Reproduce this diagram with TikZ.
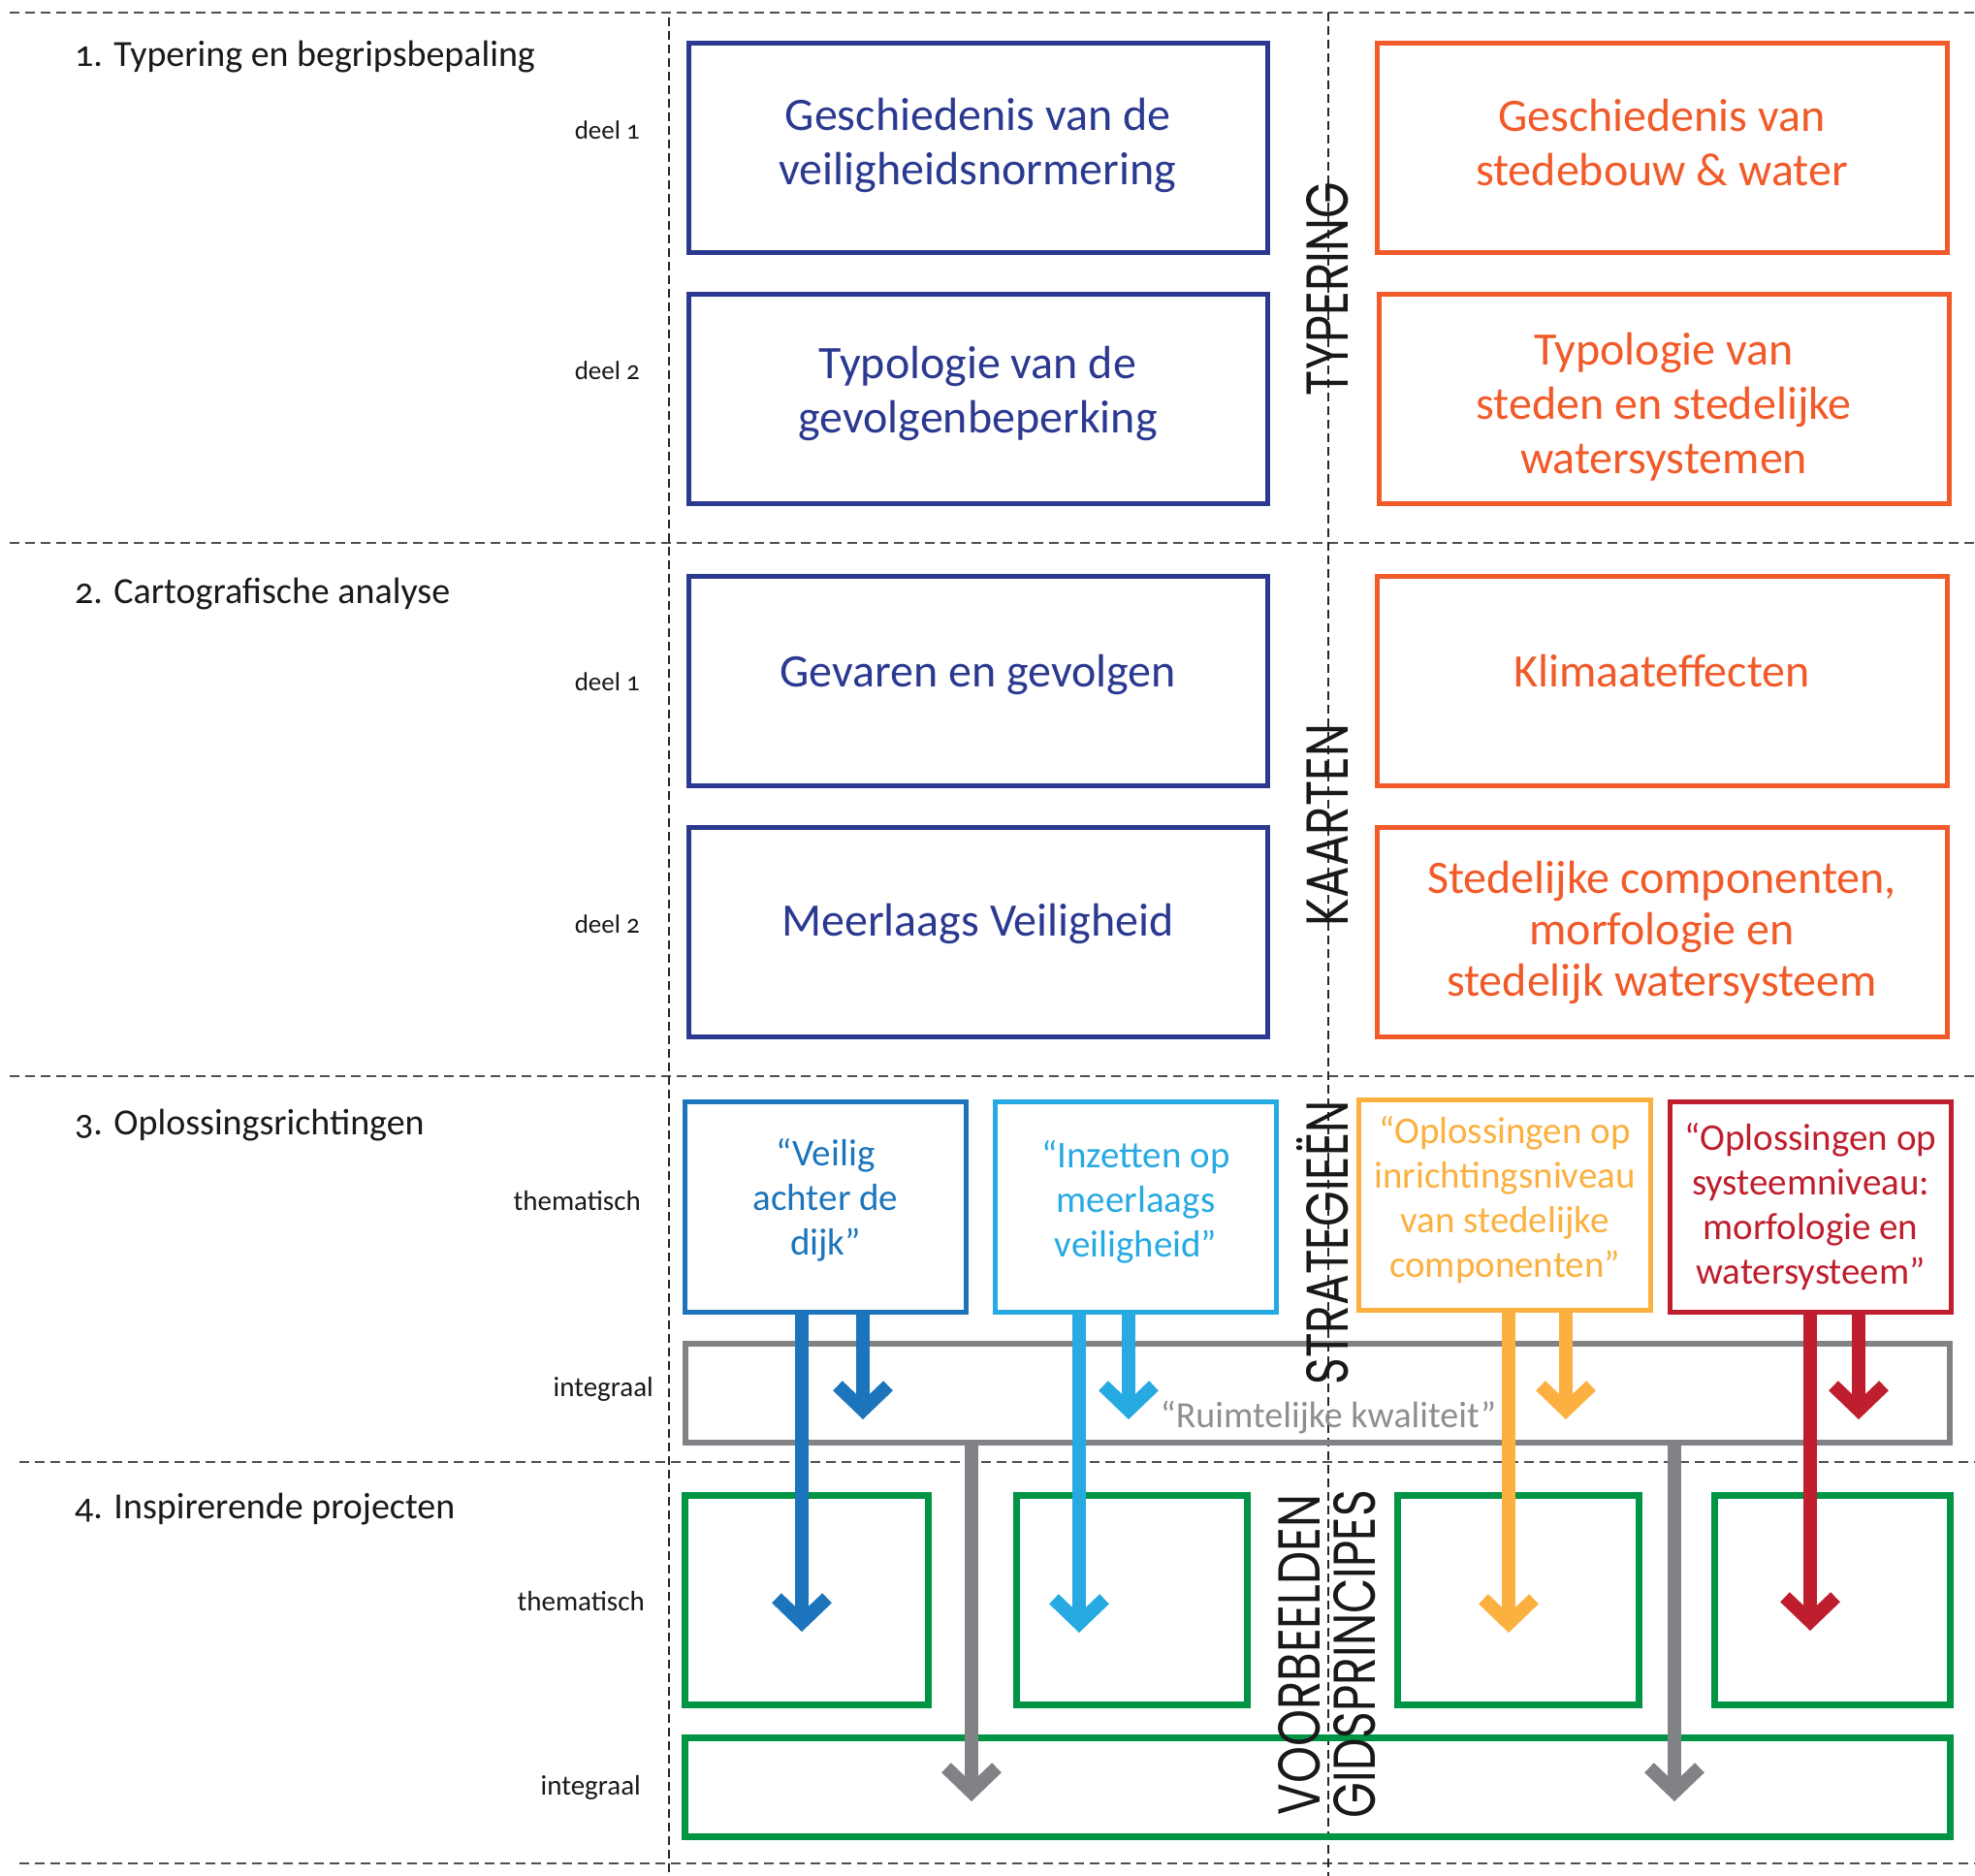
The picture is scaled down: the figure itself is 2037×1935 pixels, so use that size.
\documentclass[tikz,border=0pt]{standalone}
\usepackage{fontspec}
\setmainfont{Carlito}[Numbers=OldStyle]
\newfontfamily\geofont{Poppins}
\usetikzlibrary{arrows.meta}

\definecolor{navy}{RGB}{43,57,144}
\definecolor{tomato}{RGB}{241,90,41}
\definecolor{dijkblue}{RGB}{28,117,188}
\definecolor{skyblue}{RGB}{39,170,225}
\definecolor{amber}{RGB}{251,176,64}
\definecolor{crimson}{RGB}{190,30,45}
\definecolor{leaf}{RGB}{0,148,68}
\definecolor{slate}{RGB}{128,130,133}
\definecolor{slatetext}{RGB}{140,142,145}
\definecolor{rulegray}{RGB}{80,80,80}

\newcommand\fsz[2]{\fontsize{#1}{#2}\selectfont}

\tikzset{
  panel/.style={draw, rectangle, inner sep=0pt, line width=5pt},
  bigbox/.style={panel, minimum height=216pt},
  navybox/.style={bigbox, draw=navy, minimum width=597pt},
  tomatobox/.style={bigbox, draw=tomato, minimum width=588pt},
  stratbox/.style={panel, minimum height=217pt},
  boxtext/.style={inner sep=0pt, align=center, font=\fsz{48}{56}},
  strattext/.style={inner sep=0pt, align=center, font=\fsz{39}{46}},
  greenbox/.style={draw=leaf, line width=7pt, rectangle, inner sep=0pt, minimum height=216pt},
  greybar/.style={draw=slate, line width=6pt, rectangle, inner sep=0pt, minimum height=102pt, minimum width=1304pt},
  hrule/.style={draw=rulegray, line width=1.8pt, dash pattern=on 10pt off 6pt},
  vrule/.style={draw=black!85, line width=1.5pt, dash pattern=on 9pt off 5pt},
  sectiontitle/.style={anchor=base west, inner sep=0pt, font=\fsz{38}{44}, text=black!90},
  rowlabel/.style={anchor=base east, inner sep=0pt, font=\fsz{27}{32}, text=black!90},
  levellabel/.style={rowlabel, font=\fsz{29}{34}},
  vlabel/.style={rotate=90, anchor=base, inner sep=0pt, text=black!90, font=\geofont\fsz{61}{61}},
  flow/.style={line width=14pt, -{Straight Barb[length=25pt, width=52pt, sharp]}},
}

\begin{document}
\begin{tikzpicture}[x=1pt, y=-1pt]
\useasboundingbox (0,0) rectangle (2037,1935);

% dashed grid: section separators and column separators
\draw[hrule] (10,13) -- (2037,13);
\draw[hrule] (10,560) -- (2037,560);
\draw[hrule] (10,1110) -- (2037,1110);
\draw[hrule] (20,1508) -- (2037,1508);
\draw[hrule] (20,1922) -- (2037,1922);
\draw[vrule] (690,18) -- (690,1935);
\draw[vrule] (1370,13) -- (1370,1935);

% section titles
\node[sectiontitle] (t1) at (77,69) {1. Typering en begripsbepaling};
\node[sectiontitle] (t2) at (77,622) {2. Cartografische analyse};
\node[sectiontitle] (t3) at (77,1170) {3. Oplossingsrichtingen};
\node[sectiontitle] (t4) at (77,1566) {4. Inspirerende projecten};

% row labels
\node[rowlabel] (l11) at (660,143) {deel 1};
\node[rowlabel] (l12) at (660,391) {deel 2};
\node[rowlabel] (l21) at (660,712) {deel 1};
\node[rowlabel] (l22) at (660,962) {deel 2};
\node[levellabel] (l31) at (661,1248) {thematisch};
\node[levellabel] (l32) at (674,1440) {integraal};
\node[levellabel] (l41) at (665,1661) {thematisch};
\node[levellabel] (l42) at (661,1851) {integraal};

% part 1
\node[navybox] (hist) at (1008.5,152.5) {};
\node[navybox] (typo) at (1008.5,411.5) {};
\node[tomatobox] (histsb) at (1714,152.5) {};
\node[tomatobox] (typosb) at (1716,411.5) {};
\node[boxtext, text=navy] (histT) at ([yshift=3pt]hist.center) {Geschiedenis van de\\veiligheidsnormering};
\node[boxtext, text=navy] (typoT) at ([yshift=6pt]typo.center) {Typologie van de\\gevolgenbeperking};
\node[boxtext, text=tomato] (histsbT) at ([yshift=5pt]histsb.center) {Geschiedenis van\\stedebouw \& water};
\node[boxtext, text=tomato] (typosbT) at ([yshift=-8pt]typosb.center) {Typologie van\\steden en stedelijke\\watersystemen};

% part 2
\node[navybox] (gevaren) at (1008.5,702) {};
\node[navybox] (meerl) at (1008.5,961.5) {};
\node[tomatobox] (klimaat) at (1714,702) {};
\node[tomatobox] (stedcomp) at (1714,961.5) {};
\node[boxtext, text=navy] (gevarenT) at ([yshift=6pt]gevaren.center) {Gevaren en gevolgen};
\node[boxtext, text=navy] (meerlT) at ([yshift=9pt]meerl.center) {Meerlaags Veiligheid};
\node[boxtext, text=tomato] (klimaatT) at ([yshift=10pt]klimaat.center) {Klimaateffecten};
\node[boxtext, text=tomato, font=\fsz{48}{53}] (stedcompT) at (stedcomp.center) {Stedelijke componenten,\\morfologie en\\stedelijk watersysteem};

% part 3
\node[greybar] (ruimte) at (1359,1437) {};
\node[anchor=base, inner sep=0pt, font=\fsz{38}{44}, text=slatetext] (ruimteT) at (1370,1472) {“Ruimtelijke kwaliteit”};
\node[stratbox, draw=dijkblue, minimum width=290pt] (veilig) at (851.5,1245) {};
\node[stratbox, draw=skyblue, minimum width=290pt] (inzet) at (1171.5,1245) {};
\node[stratbox, draw=amber, minimum width=301pt] (inricht) at (1552,1243) {};
\node[stratbox, draw=crimson, minimum width=290pt] (systeem) at (1867.5,1245) {};
\node[strattext, text=dijkblue] (veiligT) at ([yshift=7pt]veilig.center) {“Veilig\\achter de\\dijk”};
\node[strattext, text=skyblue] (inzetT) at ([yshift=5pt]inzet.center) {“Inzetten op\\meerlaags\\veiligheid”};
\node[strattext, text=amber] (inrichtT) at ([yshift=5pt]inricht.center) {“Oplossingen op\\inrichtingsniveau\\van stedelijke\\componenten”};
\node[strattext, text=crimson] (systeemT) at (systeem.center) {“Oplossingen op\\systeemniveau:\\morfologie en\\watersysteem”};

% part 4
\node[greenbox, minimum width=251pt] (proj1) at (832,1650.5) {};
\node[greenbox, minimum width=238pt] (proj2) at (1167.5,1650.5) {};
\node[greenbox, minimum width=249pt] (proj3) at (1566,1650.5) {};
\node[greenbox, minimum width=243pt] (proj4) at (1890,1650.5) {};
\node[greenbox, minimum width=1305pt, minimum height=102pt] (projint) at (1359,1843.5) {};

% vertical headings
\node[vlabel] (vtyp) at (1390,298) {\resizebox{220pt}{\height}{TYPERING}};
\node[vlabel] (vkaart) at (1390,851) {\resizebox{208pt}{\height}{KAARTEN}};
\node[vlabel] (vstrat) at (1390,1282) {\resizebox{293pt}{\height}{STRATEGIEËN}};
\node[vlabel] (vvoorb) at (1361,1707) {\resizebox{331pt}{\height}{VOORBEELDEN}};
\node[vlabel] (vgids) at (1418,1706) {\resizebox{338pt}{\height}{GIDSPRINCIPES}};

% arrow ends
\coordinate (veiligA) at (827,1683);
\coordinate (veiligB) at (890,1464);
\coordinate (inzetA) at (1113,1684);
\coordinate (inzetB) at (1164,1464);
\coordinate (inrichtA) at (1556,1684);
\coordinate (inrichtB) at (1615,1464);
\coordinate (systeemA) at (1867,1682);
\coordinate (systeemB) at (1917,1464);
\coordinate (ruimteA) at (1002,1858);
\coordinate (ruimteB) at (1727,1858);

% flows from the strategies
\draw[flow, dijkblue] (veilig.south -| veiligA) -- (veiligA);
\draw[flow, dijkblue] (veilig.south -| veiligB) -- (veiligB);
\draw[flow, skyblue] (inzet.south -| inzetA) -- (inzetA);
\draw[flow, skyblue] (inzet.south -| inzetB) -- (inzetB);
\draw[flow, amber] (inricht.south -| inrichtA) -- (inrichtA);
\draw[flow, amber] (inricht.south -| inrichtB) -- (inrichtB);
\draw[flow, crimson] (systeem.south -| systeemA) -- (systeemA);
\draw[flow, crimson] (systeem.south -| systeemB) -- (systeemB);
\draw[flow, slate] (ruimte.south -| ruimteA) -- (ruimteA);
\draw[flow, slate] (ruimte.south -| ruimteB) -- (ruimteB);
\end{tikzpicture}
\end{document}
